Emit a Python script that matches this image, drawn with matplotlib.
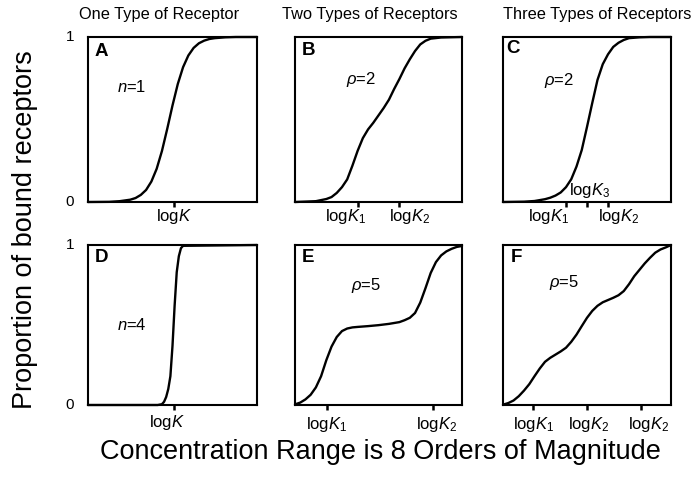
import matplotlib
matplotlib.use("Agg")
import matplotlib.pyplot as plt
from matplotlib.transforms import blended_transform_factory

plt.rcParams['font.family'] = ['Liberation Sans', 'DejaVu Sans']
plt.rcParams['mathtext.fontset'] = 'custom'
plt.rcParams['mathtext.rm'] = 'Liberation Sans'
plt.rcParams['mathtext.it'] = 'Liberation Sans:italic'
plt.rcParams['mathtext.bf'] = 'Liberation Sans:bold'

# ---------------- data ----------------
col_titles = ["One Type of Receptor", "Two Types of Receptors", "Three Types of Receptors"]
panel_letters = ["A", "B", "C", "D", "E", "F"]
panel_notes = [r"$n$=1", r"$\rho$=2", r"$\rho$=2", r"$n$=4", r"$\rho$=5", r"$\rho$=5"]
y_tick_labels = ["0", "1"]

A_x = [0, 1.0, 1.5, 2.0, 2.25, 2.5, 2.75, 3.0, 3.25, 3.5, 3.75, 4.0, 4.25, 4.5, 4.75, 5.0, 5.25, 5.5, 5.75, 6.0, 6.5, 7.0, 8.0]
A_y = [0, 0.001, 0.005, 0.014, 0.024, 0.043, 0.073, 0.124, 0.201, 0.309, 0.443, 0.585, 0.715, 0.817, 0.888, 0.934, 0.962, 0.978, 0.988, 0.993, 0.998, 1.0, 1.0]

B_x = [0, 1.0, 1.5, 1.75, 2.0, 2.25, 2.5, 2.75, 3.0, 3.25, 3.5, 3.75, 4.0, 4.25, 4.5, 4.75, 5.0, 5.25, 5.5, 5.75, 6.0, 6.25, 6.5, 7.0, 8.0]
B_y = [0, 0.005, 0.018, 0.03, 0.055, 0.09, 0.137, 0.22, 0.31, 0.387, 0.44, 0.48, 0.525, 0.57, 0.62, 0.685, 0.745, 0.81, 0.865, 0.915, 0.955, 0.977, 0.99, 0.997, 1.0]

C_x = [0, 1.0, 1.5, 2.0, 2.25, 2.5, 2.75, 3.0, 3.25, 3.5, 3.75, 4.0, 4.25, 4.5, 4.75, 5.0, 5.25, 5.5, 5.75, 6.0, 6.5, 7.0, 8.0]
C_y = [0, 0.002, 0.006, 0.017, 0.026, 0.039, 0.058, 0.09, 0.138, 0.215, 0.315, 0.455, 0.6, 0.74, 0.835, 0.895, 0.94, 0.965, 0.982, 0.993, 0.998, 1.0, 1.0]

D_x = [0, 3.3, 3.5, 3.6, 3.7, 3.8, 3.9, 4.0, 4.1, 4.2, 4.3, 4.4, 4.5, 8.0]
D_y = [0, 0, 0.005, 0.02, 0.05, 0.1, 0.18, 0.37, 0.62, 0.83, 0.93, 0.98, 0.995, 1.0]

E_x = [0, 0.25, 0.5, 0.75, 1.0, 1.25, 1.5, 1.75, 2.0, 2.25, 2.5, 2.75, 3.0, 3.5, 4.0, 4.5, 5.0, 5.25, 5.5, 5.75, 6.0, 6.25, 6.5, 6.75, 7.0, 7.25, 7.5, 7.75, 8.0]
E_y = [0.004, 0.015, 0.035, 0.064, 0.11, 0.18, 0.28, 0.365, 0.425, 0.462, 0.478, 0.485, 0.488, 0.493, 0.499, 0.507, 0.518, 0.53, 0.545, 0.575, 0.64, 0.73, 0.825, 0.893, 0.935, 0.96, 0.976, 0.988, 0.994]

F_x = [0, 0.25, 0.5, 0.75, 1.0, 1.25, 1.5, 1.75, 2.0, 2.25, 2.5, 2.75, 3.0, 3.25, 3.5, 3.75, 4.0, 4.25, 4.5, 4.75, 5.0, 5.25, 5.5, 5.75, 6.0, 6.25, 6.5, 6.75, 7.0, 7.25, 7.5, 7.75, 8.0]
F_y = [0.002, 0.012, 0.028, 0.055, 0.09, 0.13, 0.18, 0.228, 0.27, 0.295, 0.315, 0.335, 0.358, 0.395, 0.44, 0.493, 0.545, 0.588, 0.62, 0.642, 0.656, 0.67, 0.686, 0.712, 0.755, 0.805, 0.845, 0.885, 0.92, 0.952, 0.972, 0.985, 1.0]

# tick marks on the concentration axis (log units, 0..8)
A_ticks = [4.05]
B_ticks = [3.0, 5.0]
C_ticks = [3.0, 4.0, 5.0]
D_ticks = [4.05]
E_ticks = [1.54, 6.6]
F_ticks = [1.45, 4.0, 6.55]

# tick label texts and where their centres sit (log units)
A_labels = [r"log$K$"];                       A_label_x = [4.05]
B_labels = [r"log$K_1$", r"log$K_2$"];         B_label_x = [2.4, 5.5]
C_labels = [r"log$K_1$", r"log$K_2$"];         C_label_x = [2.19, 5.5]
D_labels = [r"log$K$"];                       D_label_x = [3.76]
E_labels = [r"log$K_1$", r"log$K_2$"];         E_label_x = [1.52, 6.78]
F_labels = [r"log$K_1$", r"log$K_2$", r"log$K_2$"]; F_label_x = [1.44, 4.07, 6.95]

curves = [(A_x, A_y), (B_x, B_y), (C_x, C_y), (D_x, D_y), (E_x, E_y), (F_x, F_y)]
tick_sets = [A_ticks, B_ticks, C_ticks, D_ticks, E_ticks, F_ticks]
label_sets = [(A_labels, A_label_x), (B_labels, B_label_x), (C_labels, C_label_x),
              (D_labels, D_label_x), (E_labels, E_label_x), (F_labels, F_label_x)]

# ---------------- layout / style ----------------
letter_pos = [(0.3, 0.91), (0.3, 0.92), (0.15, 0.93), (0.3, 0.92), (0.3, 0.92), (0.35, 0.92)]
note_pos = [(1.35, 0.70), (2.45, 0.74), (1.95, 0.735), (1.35, 0.50), (2.7, 0.745), (2.2, 0.765)]
label_y_px = [15, 15, 15, 17, 20, 20]   # label centre distance below axis (px)

W, H = 691, 478
fig = plt.figure(figsize=(W / 100, H / 100), dpi=100)

cols = [(88, 257), (295, 462), (503, 671)]
rows = [(37, 202), (245, 405)]
title_cx = [159, 370, 597]

for i in range(6):
    r, c = divmod(i, 3)
    x0, x1 = cols[c]
    yt, yb = rows[r]
    ax = fig.add_axes([x0 / W, (H - yb) / H, (x1 - x0) / W, (yb - yt) / H])
    xs, ys = curves[i]
    ax.plot(xs, ys, color='black', lw=1.7, solid_capstyle='round', clip_on=False)
    ax.set_xlim(0, 8)
    ax.set_ylim(0, 1)
    for s in ax.spines.values():
        s.set_linewidth(1.5)
    ax.set_xticks(tick_sets[i])
    ax.set_xticklabels([])
    ax.tick_params(axis='x', direction='out', length=3.5, width=1.8)
    ax.set_yticks([])
    trans = blended_transform_factory(ax.transData, ax.transAxes)
    labs, labx = label_sets[i]
    dy = -label_y_px[i] / (yb - yt)
    for t, lxp in zip(labs, labx):
        ax.text(lxp, dy, t, transform=trans, fontsize=12, ha='center', va='center')
    if c == 0:
        for yv, yl in zip([0, 1], y_tick_labels):
            ax.text(-18 / (x1 - x0), yv, yl, transform=blended_transform_factory(ax.transAxes, ax.transData),
                    fontsize=11, ha='center', va='center')
    lx, ly = letter_pos[i]
    ax.text(lx, ly, panel_letters[i], fontsize=13.5, fontweight='bold', ha='left', va='center')
    nx, ny = note_pos[i]
    ax.text(nx, ny, panel_notes[i], fontsize=12, ha='left', va='center')
    if i == 2:
        ax.text(4.14, 0.07, r"log$K_3$", fontsize=12, ha='center', va='center')

for c in range(3):
    fig.text(title_cx[c] / W, 1 - 15 / H, col_titles[c], fontsize=11.8, ha='center', va='center')

fig.text(25 / W, 1 - 230 / H, "Proportion of bound receptors", rotation=90,
         fontsize=19.5, ha='center', va='center')
fig.text(380 / W, 1 - 452 / H, "Concentration Range is 8 Orders of Magnitude",
         fontsize=19.5, ha='center', va='center')

fig.savefig("out.png", dpi=100)
